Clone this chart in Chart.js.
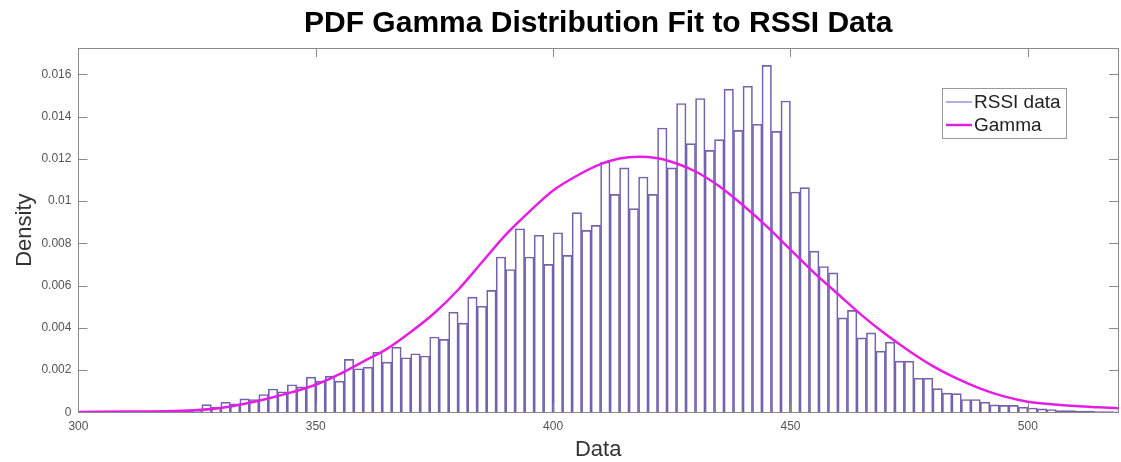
<!DOCTYPE html>
<html>
<head>
<meta charset="utf-8">
<script src="https://cdn.jsdelivr.net/npm/chart.js@4.4.0/dist/chart.umd.min.js"></script>
<style>
  body { margin: 0; background: #fff; }
  #wrap { width: 1121px; height: 462px; }
</style>
</head>
<body>
<div id="wrap"><canvas id="gammaChart" width="1121" height="462"></canvas></div>
<script>
// histogram bins: first bin starts at 300, every bin is 2 wide
var binStart = 300;
var binWidth = 2;
var rssiDensity = [
  0, 0, 0.00002, 0, 0.00002, 0.00003, 0.00002, 0.00004, 0.00003, 0.00006,
  0.00005, 0.00008, 0.0001, 0.00036, 0.00024, 0.00047, 0.0004, 0.00063, 0.0006, 0.00084,
  0.0011, 0.00097, 0.0013, 0.0012, 0.00166, 0.00147, 0.00171, 0.00147, 0.0025, 0.00206,
  0.00213, 0.00284, 0.00237, 0.00308, 0.00258, 0.00277, 0.00266, 0.00356, 0.00345, 0.00474,
  0.00422, 0.00545, 0.00502, 0.00577, 0.00735, 0.00676, 0.00869, 0.00735, 0.00838, 0.007,
  0.0085, 0.00743, 0.00945, 0.00861, 0.00885, 0.01185, 0.01032, 0.01157, 0.00964, 0.01114,
  0.01032, 0.01346, 0.01157, 0.01462, 0.01272, 0.01486, 0.0124, 0.01291, 0.0153, 0.01335,
  0.01544, 0.01364, 0.01643, 0.0133, 0.01474, 0.01043, 0.01064, 0.00763, 0.0069, 0.0066,
  0.00447, 0.00482, 0.00352, 0.00376, 0.00289, 0.00332, 0.00242, 0.00242, 0.00161, 0.00161,
  0.00112, 0.0009, 0.00088, 0.0006, 0.0006, 0.00047, 0.00035, 0.00032, 0.00032, 0.00024,
  0.0002, 0.00016, 0.00013, 0.00008, 0.00008, 0.00005, 0.00005, 0.00003, 0.00003, 0.00002
];

// fitted gamma curve
var gammaX = [300, 310, 320, 325, 330, 335, 340, 345, 350, 355, 360, 365, 370, 375, 380, 385, 390, 395, 400,
  405, 410, 414, 418, 422, 426, 430, 435, 440, 445, 450, 455, 460, 465, 470, 475, 480, 485, 490, 495, 500,
  505, 510, 515, 520];
var gammaY = [0.00001, 0.00003, 0.00006, 0.0001, 0.0002, 0.0004, 0.00065, 0.00095, 0.0013, 0.0018, 0.0024,
  0.003, 0.0038, 0.0047, 0.0058, 0.0071, 0.0084, 0.0095, 0.0105, 0.0112, 0.01175, 0.01202, 0.0121,
  0.01203, 0.01178, 0.0114, 0.0107, 0.0098, 0.0088, 0.0077, 0.0066, 0.0056, 0.0046, 0.0037, 0.0029,
  0.00218, 0.0016, 0.00112, 0.00075, 0.0005, 0.00038, 0.00029, 0.00023, 0.00018];

var xTicks = [300, 350, 400, 450, 500];
var yTicks = [0, 0.002, 0.004, 0.006, 0.008, 0.01, 0.012, 0.014, 0.016];

var histData = rssiDensity.map(function (d, i) {
  return { x: binStart + binWidth * i + binWidth / 2, y: d };
});
var gammaData = gammaX.map(function (x, i) {
  return { x: x, y: gammaY[i] };
});

var edgeColor = '#7363ae';
var gammaColor = '#e41ee4';
var axisColor = '#8a8a8a';

// box round the plot with inward ticks on all four sides, like MATLAB
var framePlugin = {
  id: 'frame',
  afterDatasetsDraw: function (chart) {
    var ctx = chart.ctx, a = chart.chartArea;
    var xs = chart.scales.x, ys = chart.scales.y;
    var len = 9;
    ctx.save();
    ctx.strokeStyle = axisColor;
    ctx.lineWidth = 1;
    ctx.strokeRect(Math.round(a.left) + 0.5, Math.round(a.top) + 0.5,
      Math.round(a.right - a.left), Math.round(a.bottom - a.top));
    ctx.beginPath();
    xTicks.forEach(function (v) {
      var px = Math.round(xs.getPixelForValue(v)) + 0.5;
      ctx.moveTo(px, a.bottom); ctx.lineTo(px, a.bottom - len);
      ctx.moveTo(px, a.top); ctx.lineTo(px, a.top + len);
    });
    yTicks.forEach(function (v) {
      var py = Math.round(ys.getPixelForValue(v)) + 0.5;
      ctx.moveTo(a.left, py); ctx.lineTo(a.left + len, py);
      ctx.moveTo(a.right, py); ctx.lineTo(a.right - len, py);
    });
    ctx.stroke();
    ctx.restore();
  }
};

// legend box in the upper right of the plot
var legendBoxPlugin = {
  id: 'legendBox',
  afterDraw: function (chart) {
    var ctx = chart.ctx, a = chart.chartArea;
    var bx = a.right - 176, by = a.top + 40, bw = 124, bh = 50;
    ctx.save();
    ctx.fillStyle = '#fff';
    ctx.fillRect(bx, by, bw, bh);
    ctx.strokeStyle = '#9a9a9a';
    ctx.lineWidth = 1;
    ctx.strokeRect(bx + 0.5, by + 0.5, bw, bh);
    var items = [
      { text: 'RSSI data', color: '#9d8fd6', width: 1.5 },
      { text: 'Gamma', color: gammaColor, width: 2.5 }
    ];
    ctx.font = '19px "Liberation Sans", Arial, sans-serif';
    ctx.textBaseline = 'middle';
    items.forEach(function (it, i) {
      var y = by + 14 + i * 23;
      ctx.strokeStyle = it.color;
      ctx.lineWidth = it.width;
      ctx.beginPath();
      ctx.moveTo(bx + 4, y); ctx.lineTo(bx + 30, y);
      ctx.stroke();
      ctx.fillStyle = '#222';
      ctx.fillText(it.text, bx + 32, y + 1);
    });
    ctx.restore();
  }
};

var ctx = document.getElementById('gammaChart').getContext('2d');
var chart = new Chart(ctx, {
  type: 'bar',
  data: {
    datasets: [
      {
        type: 'line',
        label: 'Gamma',
        data: gammaData,
        borderColor: gammaColor,
        borderWidth: 2.5,
        pointRadius: 0,
        fill: false,
        cubicInterpolationMode: 'monotone',
        order: 0
      },
      {
        type: 'bar',
        label: 'RSSI data',
        data: histData,
        backgroundColor: 'rgba(255,255,255,0)',
        borderColor: edgeColor,
        borderWidth: 1,
        borderSkipped: 'bottom',
        barPercentage: 1,
        categoryPercentage: 1,
        order: 1
      }
    ]
  },
  options: {
    responsive: false,
    animation: false,
    layout: { padding: { left: 12, right: 3, top: 0, bottom: 0 } },
    plugins: {
      legend: { display: false },
      tooltip: { enabled: false },
      title: {
        display: true,
        text: 'PDF Gamma Distribution Fit to RSSI Data',
        fullSize: false,
        color: '#000',
        font: { family: '"Liberation Sans", Arial, sans-serif', size: 30, weight: 'bold' },
        padding: { top: 6, bottom: 6 }
      }
    },
    scales: {
      x: {
        type: 'linear',
        min: 300,
        max: 519,
        offset: false,
        afterBuildTicks: function (s) {
          s.ticks = xTicks.map(function (v) { return { value: v }; });
        },
        ticks: {
          color: '#555',
          padding: 7,
          maxRotation: 0,
          font: { family: '"Liberation Sans", Arial, sans-serif', size: 12 }
        },
        grid: { display: false, drawTicks: false },
        border: { display: false },
        title: {
          display: true,
          text: 'Data',
          color: '#333',
          font: { family: '"Liberation Sans", Arial, sans-serif', size: 22 },
          padding: { top: -4, bottom: -1 }
        }
      },
      y: {
        min: 0,
        max: 0.01725,
        afterBuildTicks: function (s) {
          s.ticks = yTicks.map(function (v) { return { value: v }; });
        },
        ticks: {
          color: '#555',
          padding: 7,
          font: { family: '"Liberation Sans", Arial, sans-serif', size: 12 },
          callback: function (v) { return String(parseFloat(v.toFixed(4))); }
        },
        grid: { display: false, drawTicks: false },
        border: { display: false },
        title: {
          display: true,
          text: 'Density',
          color: '#333',
          font: { family: '"Liberation Sans", Arial, sans-serif', size: 22 },
          padding: { top: 0, bottom: -4 }
        }
      }
    }
  },
  plugins: [framePlugin, legendBoxPlugin]
});
</script>
</body>
</html>
